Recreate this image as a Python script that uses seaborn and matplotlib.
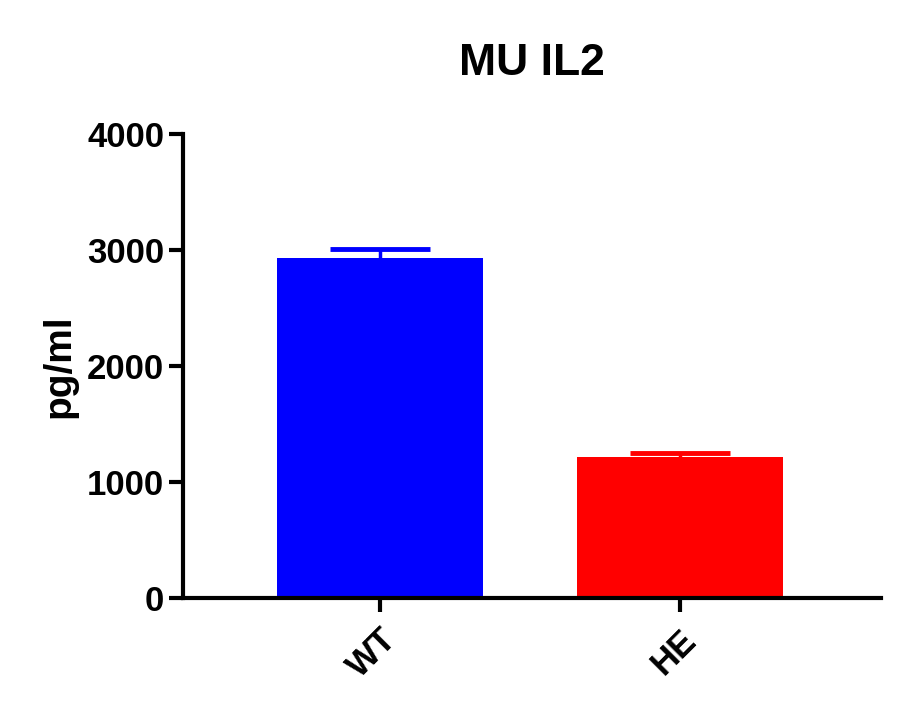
import matplotlib
matplotlib.use("Agg")
import matplotlib.pyplot as plt
import seaborn as sns
import pandas as pd

# valori (media + SEM)
gruppi = ["WT", "HE"]
medie = [2925, 1215]
sem = [78, 38]
colori = ["#0000FF", "#FF0000"]
tick_y = [0, 1000, 2000, 3000, 4000]
titolo = "MU IL2"
etichetta_y = "pg/ml"

sns.set_theme(style="ticks")
plt.rcParams['font.family'] = ['Liberation Sans', 'DejaVu Sans']
plt.rcParams['font.weight'] = 'bold'
plt.rcParams['text.color'] = 'black'
plt.rcParams['axes.labelcolor'] = 'black'
plt.rcParams['xtick.color'] = 'black'
plt.rcParams['ytick.color'] = 'black'

df = pd.DataFrame({"Gruppo": gruppi, "Valore": medie})

fig = plt.figure(figsize=(9.06, 7.23), dpi=100)
ax = fig.add_axes([0.202, 0.173, 0.770, 0.642])

sns.barplot(data=df, x="Gruppo", y="Valore", hue="Gruppo", palette=colori,
            saturation=1, width=0.687, edgecolor="none", legend=False,
            zorder=2, ax=ax)

# barre di errore: la metà inferiore resta nascosta dietro la barra (stile Prism)
for i, (m, e, c) in enumerate(zip(medie, sem, colori)):
    ax.errorbar(i, m, yerr=e, fmt="none", ecolor=c,
                elinewidth=2.5, capsize=36, capthick=3.5, zorder=1)

ax.set_xlim(-0.657, 1.67)
ax.set_ylim(0, 4000)
ax.set_yticks(tick_y)
ax.set_yticklabels([str(t) for t in tick_y], fontsize=25, fontweight='bold')
ax.set_xticks(range(len(gruppi)))
ax.set_xticklabels(gruppi, fontsize=25, fontweight='bold', rotation=45,
                   ha='right', rotation_mode='anchor')
ax.set_xlabel("")
ax.set_ylabel(etichetta_y, fontsize=28, fontweight='bold', labelpad=7)
ax.set_title(titolo, fontsize=32, fontweight='bold', pad=42)

for lato in ["top", "right"]:
    ax.spines[lato].set_visible(False)
for lato in ["left", "bottom"]:
    ax.spines[lato].set_linewidth(3)
    ax.spines[lato].set_color("black")
ax.tick_params(axis='both', width=3, length=10, color="black")
ax.tick_params(axis='x', pad=8)

fig.savefig("out.png", dpi=100)
